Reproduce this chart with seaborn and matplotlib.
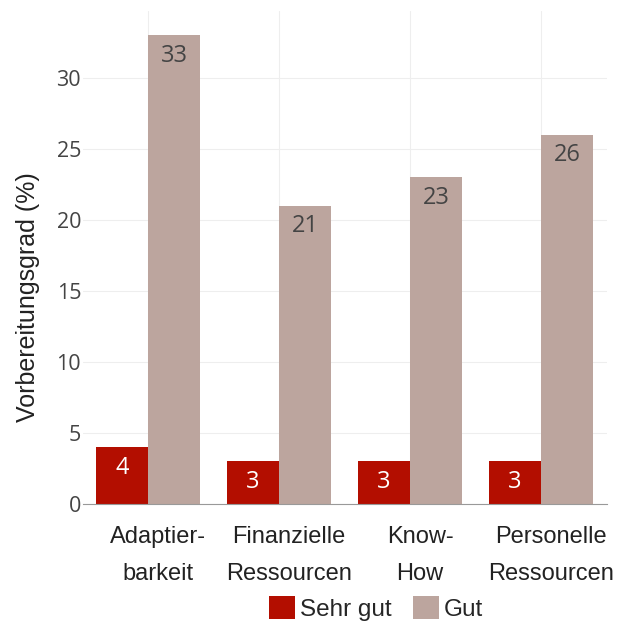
import matplotlib
matplotlib.use("Agg")
import matplotlib.pyplot as plt
import matplotlib.transforms as mtransforms
import seaborn as sns
import pandas as pd

categories = ["Adaptier-\nbarkeit", "Finanzielle\nRessourcen", "Know-\nHow", "Personelle\nRessourcen"]
sehr_gut = [4, 3, 3, 3]
gut = [33, 21, 23, 26]
series = ["Sehr gut", "Gut"]
colors = ["#b30e00", "#bca59e"]

df = pd.DataFrame({
    "cat": categories * 2,
    "val": sehr_gut + gut,
    "series": [series[0]] * 4 + [series[1]] * 4,
})

sns.set_style("white")
plt.rcParams["font.family"] = ["Liberation Sans", "DejaVu Sans"]

fig = plt.figure(figsize=(6.3, 6.21), dpi=100)
ax = fig.add_axes([0.131, 0.1884, 0.8317, 0.794])

sns.barplot(data=df, x="cat", y="val", hue="series", palette=colors,
            width=0.8, saturation=1, linewidth=0, edgecolor="none",
            ax=ax, legend=True)

# labels inside bars
for cont, col in zip(ax.containers, ["white", "#444444"]):
    for bar in cont:
        h = bar.get_height()
        ax.text(bar.get_x() + bar.get_width() / 2, h - 0.6, f"{int(h)}",
                ha="center", va="top", fontsize=17, color=col,
                family="Open Sans")

ax.set_xlim(-0.5, 3.5)
ax.set_ylim(0, 34.7)
ax.set_yticks([0, 5, 10, 15, 20, 25, 30])
ax.grid(True, axis="both", color="#eeeeee", linewidth=0.8)
ax.set_axisbelow(True)
for s in ["top", "right", "left"]:
    ax.spines[s].set_visible(False)
ax.spines["bottom"].set_color("#999999")
ax.tick_params(axis="y", labelsize=15.5, colors="#444444", length=0, pad=1)
ax.tick_params(axis="x", labelsize=17, colors="#222222", length=0, pad=16)
for t in ax.get_yticklabels():
    t.set_family("Open Sans")
shift = mtransforms.ScaledTranslation(10 / 100, 0, fig.dpi_scale_trans)
for t in ax.get_xticklabels():
    t.set_linespacing(1.85)
    t.set_transform(t.get_transform() + shift)
ax.set_xlabel("")
ax.set_ylabel("Vorbereitungsgrad (%)", fontsize=18, color="#222222")
ax.yaxis.set_label_coords(-0.081, 0.42)

h, l = ax.get_legend_handles_labels()
ax.get_legend().remove()
fig.legend(h, l, loc="center", bbox_to_anchor=(0.597, 0.02), ncol=2, frameon=False,
           fontsize=17.5, handlelength=1.07, handleheight=1.07, handletextpad=0.2,
           columnspacing=0.87, borderpad=0)

fig.savefig("out.png", dpi=100)
